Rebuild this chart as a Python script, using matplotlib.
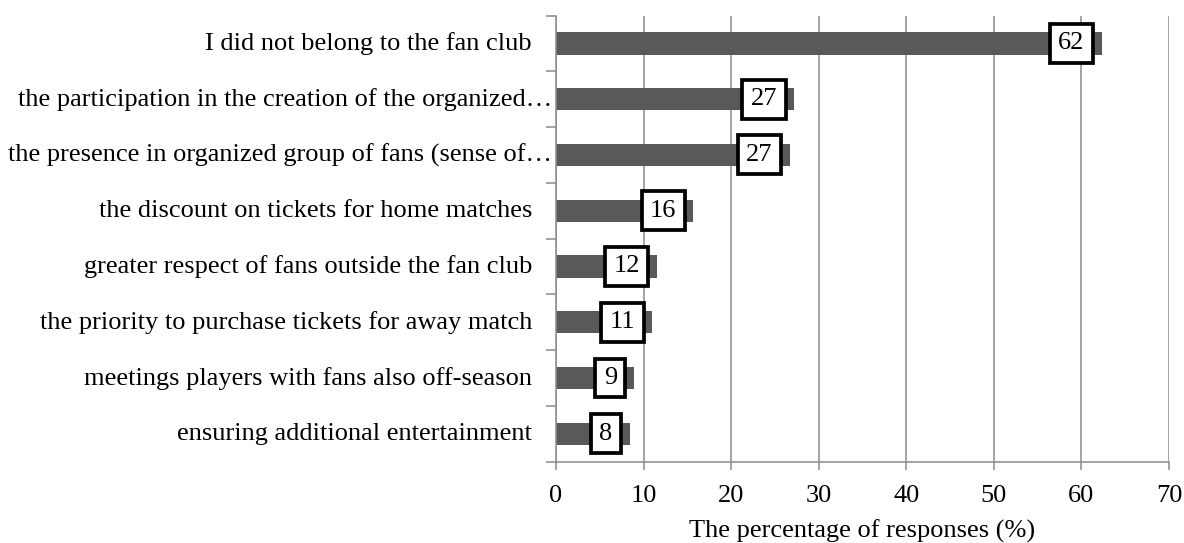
import matplotlib.pyplot as plt
import numpy as np

plt.rcParams['font.family'] = ['Liberation Serif', 'DejaVu Serif']

# Reasons given by respondents (top to bottom) and share of responses in %
categories = [
    'I did not belong to the fan club',
    'the participation in the creation of the organized…',
    'the presence in organized group of fans (sense of…',
    'the discount on tickets for home matches',
    'greater respect of fans outside the fan club',
    'the priority to purchase tickets for away match',
    'meetings players with fans also off-season',
    'ensuring additional entertainment',
]
values = [62.3, 27.2, 26.7, 15.7, 11.5, 11.0, 8.9, 8.4]

grid_col = '#8c8c8c'
fs = 19

fig = plt.figure(figsize=(11.84, 5.43), dpi=100)
ax = fig.add_axes([556 / 1184, 1 - 461.7 / 543, 613 / 1184, 446.2 / 543])

n = len(categories)
y = np.arange(n)
ax.barh(y, values, height=0.4, color='#595959', zorder=2)

ax.set_xlim(0, 70)
ax.set_ylim(n - 0.5, -0.5)
ax.set_xticks(np.arange(0, 71, 10))
ax.grid(axis='x', color=grid_col, linewidth=1.1, zorder=0)
ax.set_axisbelow(True)

for side in ['top', 'right']:
    ax.spines[side].set_visible(False)
for side in ['left', 'bottom']:
    ax.spines[side].set_color(grid_col)
    ax.spines[side].set_linewidth(1.1)

ax.tick_params(axis='x', length=6, width=1.1, color=grid_col, labelsize=fs, pad=11)
ax.set_yticks([])
ax.set_yticks(np.arange(-0.5, n, 1), minor=True)
ax.tick_params(axis='y', which='minor', length=7, width=1.1, color=grid_col)

# category labels, truncated ones sit closer to the axis
for i, c in enumerate(categories):
    dx = 4 if c.endswith('…') else 24
    ax.annotate(c, xy=(0, i), xycoords=('axes fraction', 'data'),
                xytext=(-dx, 0), textcoords='offset pixels',
                ha='right', va='center', fontsize=fs)

# boxed value labels at the inside end of each bar
for i, v in enumerate(values):
    ax.annotate(f'{v:.0f}', xy=(v, i), xytext=(-17, 0), textcoords='offset pixels',
                ha='right', va='center', fontsize=fs, zorder=4,
                bbox=dict(boxstyle='square,pad=0.32', fc='white', ec='black', lw=2.7))

ax.set_xlabel('The percentage of responses (%)', fontsize=fs, labelpad=9)

fig.savefig('out.png', dpi=100)
